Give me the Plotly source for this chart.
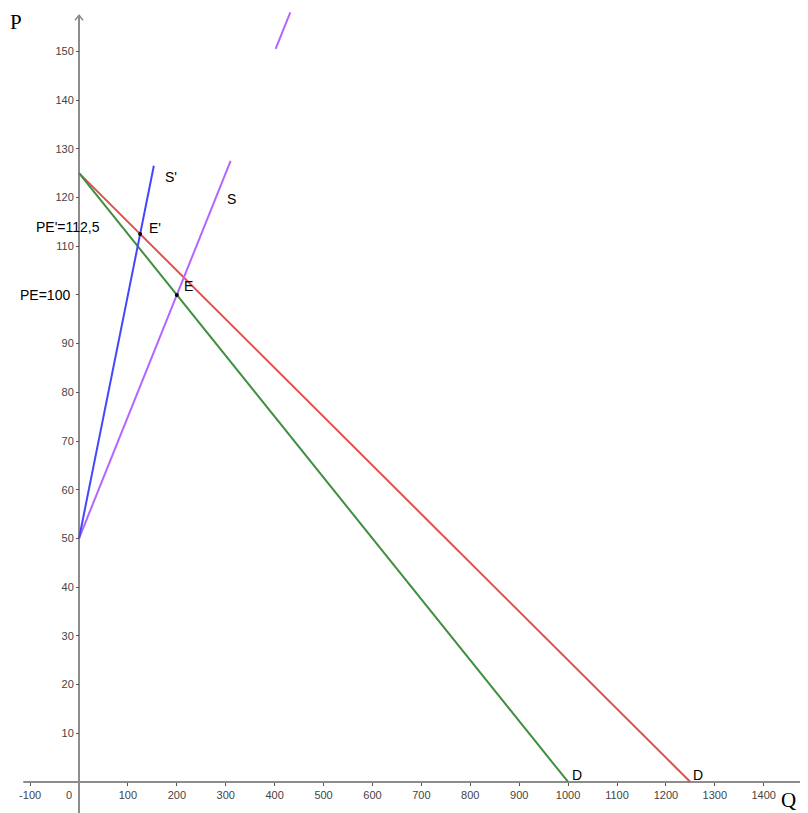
import plotly.graph_objects as go

# ---- data ----
demand_q = [0, 1000]
demand_p = [125, 0]
demand2_q = [0, 1250]
demand2_p = [125, 0]
supply_q = [0, 310]
supply_p = [50, 127.5]
supply_top_q = [402, 432]
supply_top_p = [150.5, 158]
supply2_q = [0, 153]
supply2_p = [50, 126.5]
eq_q = [125, 200]
eq_p = [112.5, 100]

x_ticks = [-100, 100, 200, 300, 400, 500, 600, 700, 800, 900, 1000, 1100, 1200, 1300, 1400]
y_ticks = [10, 20, 30, 40, 50, 60, 70, 80, 90, 100, 110, 120, 130, 140, 150]
y_ticktext = [("" if v == 100 else str(v)) for v in y_ticks]

# page offset of 8px (body margin) compensated: figure is 800x805
W, H = 800, 805
X_RANGE = [-145.2, 1490.5]
Y_RANGE = [-6.37, 158.9]

GREEN = "#3f8f3f"
RED = "#e0514b"
BLUE = "#4646ff"
PURPLE = "#b266ff"
AXIS = "#8c8c8c"
SANS = "Liberation Sans, Arial, sans-serif"
SERIF = "Liberation Serif, Times New Roman, serif"

fig = go.Figure()


def line(x, y, color):
    fig.add_trace(go.Scatter(x=x, y=y, mode="lines", line=dict(color=color, width=2),
                             hoverinfo="skip", showlegend=False))


line(demand2_q, demand2_p, RED)
line(demand_q, demand_p, GREEN)
line(supply_q, supply_p, PURPLE)
line(supply_top_q, supply_top_p, PURPLE)
line(supply2_q, supply2_p, BLUE)

fig.add_trace(go.Scatter(x=eq_q, y=eq_p, mode="markers", marker=dict(color="black", size=4),
                         hoverinfo="skip", showlegend=False))

# axes lines
shapes = [
    dict(type="line", xref="x", yref="y", x0=-114, x1=1486, y0=0, y1=0,
         line=dict(color=AXIS, width=2), layer="below"),
    dict(type="line", xref="x", yref="y", x0=0, x1=0, y0=Y_RANGE[0], y1=157.4,
         line=dict(color=AXIS, width=2), layer="below"),
    # arrow heads (open chevrons)
    dict(type="path", xref="x", yref="y", xsizemode="pixel", ysizemode="pixel",
         xanchor=0, yanchor=157.4, path="M -4,-5 L 0,0 L 4,-5",
         line=dict(color=AXIS, width=1.5), layer="below"),
    dict(type="path", xref="x", yref="y", xsizemode="pixel", ysizemode="pixel",
         xanchor=1486, yanchor=0, path="M -5,4 L 0,0 L -5,-4",
         line=dict(color=AXIS, width=1.5), layer="below"),
]


def ann(text, x, y, xanchor="left", size=14, font=SANS, xref="x", yref="y", color="black",
        yanchor="middle"):
    return dict(text=text, x=x, y=y, xref=xref, yref=yref, showarrow=False,
                xanchor=xanchor, yanchor=yanchor, font=dict(family=font, size=size, color=color))


annotations = [
    ann("S'", 171, 124.3),
    ann("S", 298, 119.6),
    ann("E'", 138, 113.8),
    ann("E", 210, 101.8),
    ann("PE'=112,5", 48, 114.0, xanchor="right"),
    ann("PE=100", -14, 100.0, xanchor="right"),
    ann("D", 1003, 1.5),
    ann("D", 1252, 1.5),
    ann("0", -20, -2.7, xanchor="center", size=11, color="#444"),
    ann("P", 0, 1, xanchor="left", yanchor="top", size=21, font=SERIF, xref="paper", yref="paper"),
    ann("Q", 780 / W, 1 - 792 / H, xanchor="center", size=21, font=SERIF, xref="paper", yref="paper"),
]

fig.update_layout(
    width=W, height=H, autosize=False,
    margin=dict(l=0, r=0, t=0, b=0),
    paper_bgcolor="white", plot_bgcolor="white",
    shapes=shapes, annotations=annotations,
    xaxis=dict(range=X_RANGE, anchor="free", position=-Y_RANGE[0] / (Y_RANGE[1] - Y_RANGE[0]),
               showgrid=False, zeroline=False, showline=False,
               tickvals=x_ticks, ticktext=[str(v) for v in x_ticks],
               ticks="outside", ticklen=3, tickcolor="#555", tickwidth=1,
               tickfont=dict(family=SANS, size=11, color="#444")),
    yaxis=dict(range=Y_RANGE, anchor="free", position=-X_RANGE[0] / (X_RANGE[1] - X_RANGE[0]),
               showgrid=False, zeroline=False, showline=False,
               tickvals=y_ticks, ticktext=y_ticktext,
               ticks="outside", ticklen=3, tickcolor="#555", tickwidth=1,
               tickfont=dict(family=SANS, size=11, color="#444")),
)

fig.write_html("out.html")
